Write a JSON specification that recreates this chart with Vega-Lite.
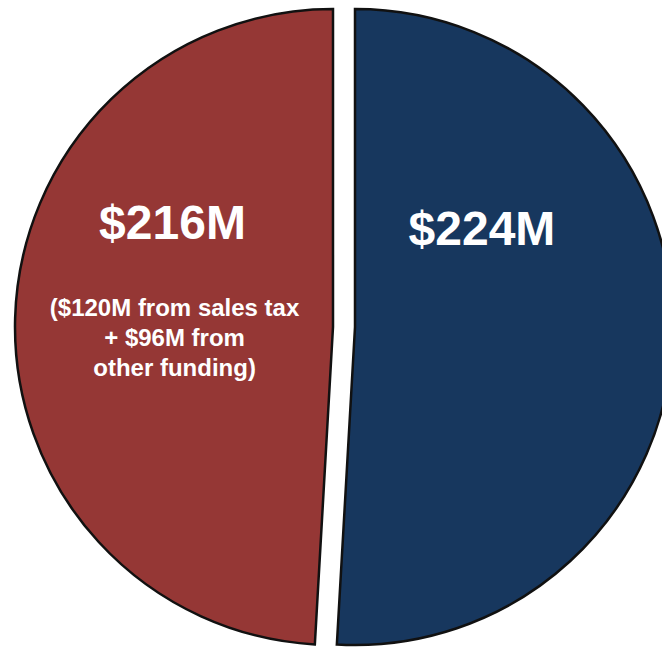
{
  "$schema": "https://vega.github.io/schema/vega-lite/v6.json",
  "width": 614,
  "height": 640,
  "padding": {"left": 48, "top": 7, "right": 0, "bottom": 0},
  "autosize": "none",
  "background": "white",
  "config": {"view": {"stroke": null}},
  "data": {
    "values": [
      {"slice": "A", "value": 224, "label": "$224M", "note": ""},
      {"slice": "B", "value": 216, "label": "$216M", "note": "($120M from sales tax\n+ $96M from\nother funding)"}
    ]
  },
  "encoding": {
    "theta": {"field": "value", "type": "quantitative", "stack": true, "scale": {"range": [0, 6.2832]}},
    "order": {"field": "slice", "type": "nominal"},
    "detail": {"field": "slice", "type": "nominal"}
  },
  "layer": [
    {
      "mark": {"type": "arc", "outerRadius": 318, "stroke": "#111111", "strokeWidth": 2.5},
      "encoding": {
        "color": {"field": "slice", "type": "nominal", "scale": {"domain": ["A", "B"], "range": ["#17375E", "#953735"]}, "legend": null},
        "opacity": {"condition": {"test": "datum.slice === 'A'", "value": 1}, "value": 0}
      }
    },
    {
      "mark": {"type": "arc", "outerRadius": 318, "stroke": "#111111", "strokeWidth": 2.5, "xOffset": -22},
      "encoding": {
        "color": {"field": "slice", "type": "nominal", "scale": {"domain": ["A", "B"], "range": ["#17375E", "#953735"]}, "legend": null},
        "opacity": {"condition": {"test": "datum.slice === 'B'", "value": 1}, "value": 0}
      }
    },
    {
      "mark": {"type": "text", "radius": 127, "dy": -99.5, "color": "white", "font": "Liberation Sans", "fontWeight": "bold", "fontSize": 48},
      "encoding": {
        "text": {"condition": {"test": "datum.slice === 'A'", "field": "label"}, "value": ""}
      }
    },
    {
      "mark": {"type": "text", "radius": 182.6, "dy": -97, "color": "white", "font": "Liberation Sans", "fontWeight": "bold", "fontSize": 48},
      "encoding": {
        "text": {"condition": {"test": "datum.slice === 'B'", "field": "label"}, "value": ""}
      }
    },
    {
      "mark": {"type": "text", "radius": 180.5, "dy": -13, "color": "white", "font": "Liberation Sans", "fontWeight": "bold", "fontSize": 24, "lineBreak": "\n", "lineHeight": 30},
      "encoding": {
        "text": {"field": "note"}
      }
    }
  ]
}
